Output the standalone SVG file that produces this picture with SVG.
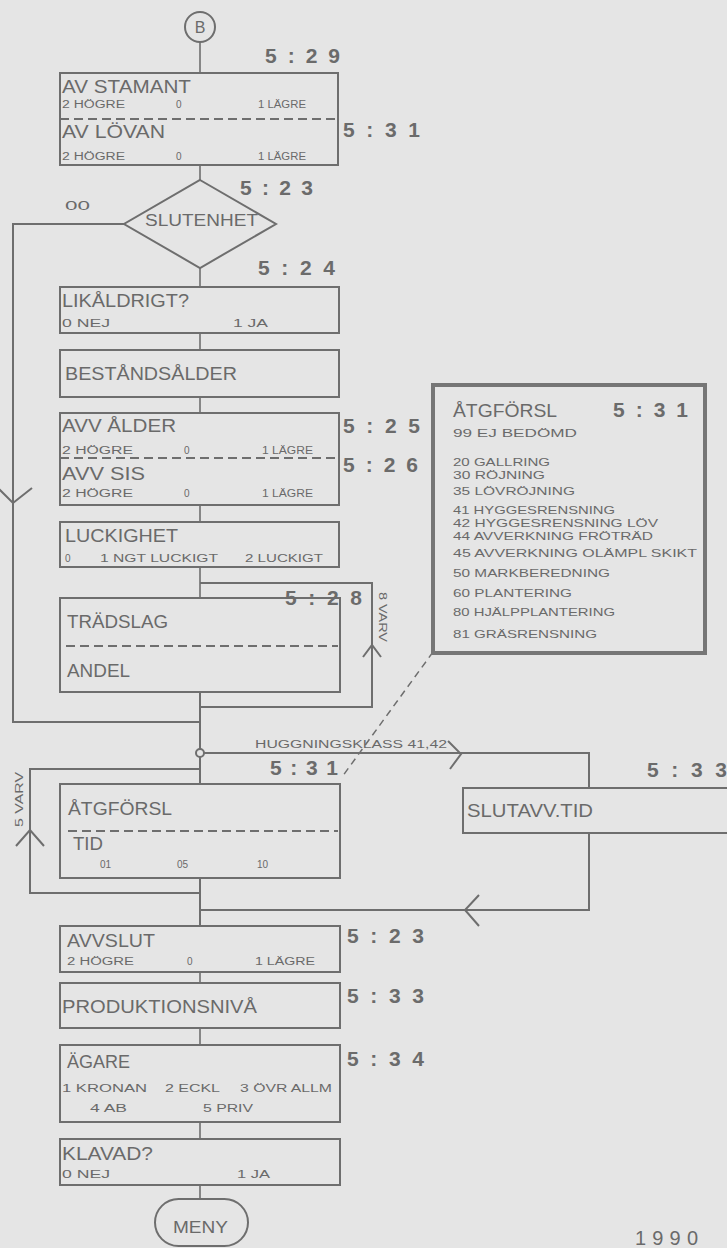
<svg xmlns="http://www.w3.org/2000/svg" width="727" height="1248" viewBox="0 0 727 1248">
<style>
.ln{fill:none;stroke:#6e6e6e;stroke-width:2}
.cn{fill:none;stroke:#6e6e6e;stroke-width:1.6}
.bx{fill:none;stroke:#6e6e6e;stroke-width:2}
.ds{fill:none;stroke:#6e6e6e;stroke-width:2;stroke-dasharray:9 5}
.t{font-family:"Liberation Sans",Arial,sans-serif;fill:#6a6a6a}
.lg{font-size:18px}
.sm{font-size:10px}
.li{font-size:11px}
.num{font-size:21px;font-weight:bold;fill:#6b6b6b}
</style>
<rect x="0" y="0" width="727" height="1248" fill="#e5e5e5"/>
<g id="connectors">
<line class="cn" x1="200" y1="42" x2="200" y2="73"/>
<line class="cn" x1="200" y1="165" x2="200" y2="180"/>
<path class="ln" d="M124,224 H13 V722 H200"/>
<polyline class="ln" points="-1,489 13,503 32,488"/>
<line class="cn" x1="200" y1="268" x2="200" y2="287"/>
<line class="cn" x1="200" y1="333" x2="200" y2="350"/>
<line class="cn" x1="200" y1="397" x2="200" y2="413"/>
<line class="cn" x1="200" y1="505" x2="200" y2="522"/>
<line class="cn" x1="200" y1="567" x2="200" y2="598"/>
<path class="ln" d="M200,583 H372 V707 H200"/>
<polyline class="ln" points="363,657 372,645 381,657"/>
<line class="ln" x1="200" y1="692" x2="200" y2="749"/>
<circle cx="200" cy="753" r="4" fill="#e5e5e5" stroke="#6e6e6e" stroke-width="2"/>
<line class="ln" x1="200" y1="757" x2="200" y2="784"/>
<path class="ln" d="M200,769 H30 V893 H200"/>
<polyline class="ln" points="16,846 30,830 44,846"/>
<line class="ln" x1="200" y1="878" x2="200" y2="926"/>
<path class="ln" d="M204,753 H589 V788"/>
<polyline class="ln" points="448,741 461,754 450,769"/>
<path class="ln" d="M589,833 V910 H200"/>
<polyline class="ln" points="479,895 465,910 479,926"/>
<line class="cn" x1="200" y1="972" x2="200" y2="983"/>
<line class="cn" x1="200" y1="1028" x2="200" y2="1045"/>
<line class="cn" x1="200" y1="1122" x2="200" y2="1139"/>
<line class="cn" x1="200" y1="1185" x2="200" y2="1199"/>
<line x1="433" y1="652" x2="342" y2="777" stroke="#6e6e6e" stroke-width="1.5" stroke-dasharray="7 5"/>
<text class="t sm" x="255" y="748" textLength="192" lengthAdjust="spacingAndGlyphs">HUGGNINGSKLASS 41,42</text>
<text class="t sm" transform="translate(379,592) rotate(90)" textLength="50" lengthAdjust="spacingAndGlyphs">8 VARV</text>
<text class="t sm" transform="translate(23,827) rotate(-90)" textLength="55" lengthAdjust="spacingAndGlyphs">5 VARV</text>
<text class="t" x="65" y="210" font-size="12" textLength="25" lengthAdjust="spacingAndGlyphs">00</text>
</g>
<g id="node-b">
<circle cx="200" cy="27" r="15" fill="none" stroke="#6e6e6e" stroke-width="2"/>
<text class="t" x="200" y="33" font-size="16" text-anchor="middle">B</text>
</g>
<g id="node-av">
<rect class="bx" x="60" y="73" width="278" height="92"/>
<line class="ds" x1="60" y1="119" x2="336" y2="119"/>
<text class="t lg" x="62" y="93" textLength="129" lengthAdjust="spacingAndGlyphs">AV STAMANT</text>
<text class="t sm" x="62" y="108" textLength="63" lengthAdjust="spacingAndGlyphs">2 HÖGRE</text>
<text class="t sm" x="176" y="108">0</text>
<text class="t sm" x="258" y="108" textLength="48" lengthAdjust="spacingAndGlyphs">1 LÄGRE</text>
<text class="t lg" x="62" y="138" textLength="103" lengthAdjust="spacingAndGlyphs">AV LÖVAN</text>
<text class="t sm" x="62" y="160" textLength="63" lengthAdjust="spacingAndGlyphs">2 HÖGRE</text>
<text class="t sm" x="176" y="160">0</text>
<text class="t sm" x="258" y="160" textLength="48" lengthAdjust="spacingAndGlyphs">1 LÄGRE</text>
<text class="t num" x="265" y="63" textLength="75">5 : 2 9</text>
<text class="t num" x="343" y="137" textLength="77">5 : 3 1</text>
</g>
<g id="node-slutenhet">
<polygon points="200,180 276,224 200,268 124,224" fill="none" stroke="#6e6e6e" stroke-width="2"/>
<text class="t" x="145" y="226" font-size="16" textLength="113" lengthAdjust="spacingAndGlyphs">SLUTENHET</text>
<text class="t num" x="240" y="195" textLength="73">5 : 2 3</text>
<text class="t num" x="258" y="275" textLength="77">5 : 2 4</text>
</g>
<g id="node-likaldrigt">
<rect class="bx" x="60" y="287" width="279" height="46"/>
<text class="t lg" x="62" y="307" textLength="127" lengthAdjust="spacingAndGlyphs">LIKÅLDRIGT?</text>
<text class="t sm" x="62" y="327" textLength="48" lengthAdjust="spacingAndGlyphs">0 NEJ</text>
<text class="t sm" x="233" y="327" textLength="35" lengthAdjust="spacingAndGlyphs">1 JA</text>
</g>
<g id="node-bestandsalder">
<rect class="bx" x="60" y="350" width="279" height="47"/>
<text class="t lg" x="65" y="380" textLength="172" lengthAdjust="spacingAndGlyphs">BESTÅNDSÅLDER</text>
</g>
<g id="node-avv">
<rect class="bx" x="60" y="413" width="279" height="92"/>
<line class="ds" x1="60" y1="458" x2="337" y2="458"/>
<text class="t lg" x="62" y="432" textLength="114" lengthAdjust="spacingAndGlyphs">AVV ÅLDER</text>
<text class="t sm" x="62" y="454" textLength="71" lengthAdjust="spacingAndGlyphs">2 HÖGRE</text>
<text class="t sm" x="184" y="454">0</text>
<text class="t sm" x="262" y="454" textLength="51" lengthAdjust="spacingAndGlyphs">1 LÄGRE</text>
<text class="t lg" x="62" y="480" textLength="83" lengthAdjust="spacingAndGlyphs">AVV SIS</text>
<text class="t sm" x="62" y="497" textLength="71" lengthAdjust="spacingAndGlyphs">2 HÖGRE</text>
<text class="t sm" x="184" y="497">0</text>
<text class="t sm" x="262" y="497" textLength="51" lengthAdjust="spacingAndGlyphs">1 LÄGRE</text>
<text class="t num" x="343" y="433" textLength="77">5 : 2 5</text>
<text class="t num" x="343" y="472" textLength="75">5 : 2 6</text>
</g>
<g id="node-luckighet">
<rect class="bx" x="60" y="522" width="279" height="45"/>
<text class="t lg" x="65" y="542" textLength="113" lengthAdjust="spacingAndGlyphs">LUCKIGHET</text>
<text class="t sm" x="65" y="562">0</text>
<text class="t sm" x="100" y="562" textLength="118" lengthAdjust="spacingAndGlyphs">1 NGT LUCKIGT</text>
<text class="t sm" x="245" y="562" textLength="78" lengthAdjust="spacingAndGlyphs">2 LUCKIGT</text>
</g>
<g id="node-tradslag">
<rect class="bx" x="60" y="598" width="280" height="94"/>
<line class="ds" x1="66" y1="646" x2="338" y2="646"/>
<text class="t lg" x="67" y="628" textLength="101" lengthAdjust="spacingAndGlyphs">TRÄDSLAG</text>
<text class="t lg" x="67" y="677" textLength="63" lengthAdjust="spacingAndGlyphs">ANDEL</text>
<text class="t num" x="285" y="605" textLength="77">5 : 2 8</text>
</g>
<g id="node-atgforsl-list">
<rect x="433" y="385" width="272" height="268" fill="none" stroke="#767676" stroke-width="4"/>
<text class="t lg" x="453" y="417" textLength="104" lengthAdjust="spacingAndGlyphs">ÅTGFÖRSL</text>
<text class="t num" x="613" y="417" textLength="75">5 : 3 1</text>
<text class="t li" x="453" y="437" textLength="124" lengthAdjust="spacingAndGlyphs">99 EJ BEDÖMD</text>
<text class="t li" x="453" y="466" textLength="97" lengthAdjust="spacingAndGlyphs">20 GALLRING</text>
<text class="t li" x="453" y="479" textLength="92" lengthAdjust="spacingAndGlyphs">30 RÖJNING</text>
<text class="t li" x="453" y="495" textLength="122" lengthAdjust="spacingAndGlyphs">35 LÖVRÖJNING</text>
<text class="t li" x="453" y="514" textLength="162" lengthAdjust="spacingAndGlyphs">41 HYGGESRENSNING</text>
<text class="t li" x="453" y="527" textLength="205" lengthAdjust="spacingAndGlyphs">42 HYGGESRENSNING LÖV</text>
<text class="t li" x="453" y="540" textLength="200" lengthAdjust="spacingAndGlyphs">44 AVVERKNING FRÖTRÄD</text>
<text class="t li" x="453" y="557" textLength="244" lengthAdjust="spacingAndGlyphs">45 AVVERKNING OLÄMPL SKIKT</text>
<text class="t li" x="453" y="577" textLength="157" lengthAdjust="spacingAndGlyphs">50 MARKBEREDNING</text>
<text class="t li" x="453" y="597" textLength="119" lengthAdjust="spacingAndGlyphs">60 PLANTERING</text>
<text class="t li" x="453" y="616" textLength="162" lengthAdjust="spacingAndGlyphs">80 HJÄLPPLANTERING</text>
<text class="t li" x="453" y="638" textLength="144" lengthAdjust="spacingAndGlyphs">81 GRÄSRENSNING</text>
</g>
<g id="node-atgforsl">
<rect class="bx" x="60" y="784" width="280" height="94"/>
<line class="ds" x1="68" y1="831" x2="338" y2="831"/>
<text class="t lg" x="68" y="815" textLength="104" lengthAdjust="spacingAndGlyphs">ÅTGFÖRSL</text>
<text class="t lg" x="73" y="850" textLength="30" lengthAdjust="spacingAndGlyphs">TID</text>
<text class="t sm" x="100" y="868">01</text>
<text class="t sm" x="177" y="868">05</text>
<text class="t sm" x="257" y="868">10</text>
<text class="t num" x="270" y="775" textLength="68">5 : 3 1</text>
</g>
<g id="node-slutavv">
<rect class="bx" x="463" y="788" width="280" height="45"/>
<text class="t lg" x="467" y="817" textLength="126" lengthAdjust="spacingAndGlyphs">SLUTAVV.TID</text>
<text class="t num" x="647" y="777" textLength="80">5 : 3 3</text>
</g>
<g id="node-avvslut">
<rect class="bx" x="60" y="926" width="280" height="46"/>
<text class="t lg" x="67" y="947" textLength="88" lengthAdjust="spacingAndGlyphs">AVVSLUT</text>
<text class="t sm" x="67" y="965" textLength="67" lengthAdjust="spacingAndGlyphs">2 HÖGRE</text>
<text class="t sm" x="187" y="965">0</text>
<text class="t sm" x="255" y="965" textLength="60" lengthAdjust="spacingAndGlyphs">1 LÄGRE</text>
<text class="t num" x="347" y="943" textLength="77">5 : 2 3</text>
</g>
<g id="node-produktion">
<rect class="bx" x="60" y="983" width="280" height="45"/>
<text class="t lg" x="62" y="1013" textLength="195" lengthAdjust="spacingAndGlyphs">PRODUKTIONSNIVÅ</text>
<text class="t num" x="347" y="1003" textLength="77">5 : 3 3</text>
</g>
<g id="node-agare">
<rect class="bx" x="60" y="1045" width="280" height="77"/>
<text class="t lg" x="67" y="1068" textLength="63" lengthAdjust="spacingAndGlyphs">ÄGARE</text>
<text class="t sm" x="62" y="1092" textLength="85" lengthAdjust="spacingAndGlyphs">1 KRONAN</text>
<text class="t sm" x="165" y="1092" textLength="55" lengthAdjust="spacingAndGlyphs">2 ECKL</text>
<text class="t sm" x="240" y="1092" textLength="92" lengthAdjust="spacingAndGlyphs">3 ÖVR ALLM</text>
<text class="t sm" x="90" y="1112" textLength="37" lengthAdjust="spacingAndGlyphs">4 AB</text>
<text class="t sm" x="203" y="1112" textLength="50" lengthAdjust="spacingAndGlyphs">5 PRIV</text>
<text class="t num" x="347" y="1066" textLength="77">5 : 3 4</text>
</g>
<g id="node-klavad">
<rect class="bx" x="60" y="1139" width="280" height="46"/>
<text class="t lg" x="62" y="1160" textLength="91" lengthAdjust="spacingAndGlyphs">KLAVAD?</text>
<text class="t sm" x="62" y="1178" textLength="48" lengthAdjust="spacingAndGlyphs">0 NEJ</text>
<text class="t sm" x="237" y="1178" textLength="33" lengthAdjust="spacingAndGlyphs">1 JA</text>
</g>
<g id="node-meny">
<rect class="bx" x="155" y="1199" width="93" height="47" rx="23.5"/>
<text class="t" x="173" y="1233" font-size="16" textLength="55" lengthAdjust="spacingAndGlyphs">MENY</text>
</g>
<text class="t" x="635" y="1245" font-size="20" fill="#777" textLength="63">1990</text>
</svg>
